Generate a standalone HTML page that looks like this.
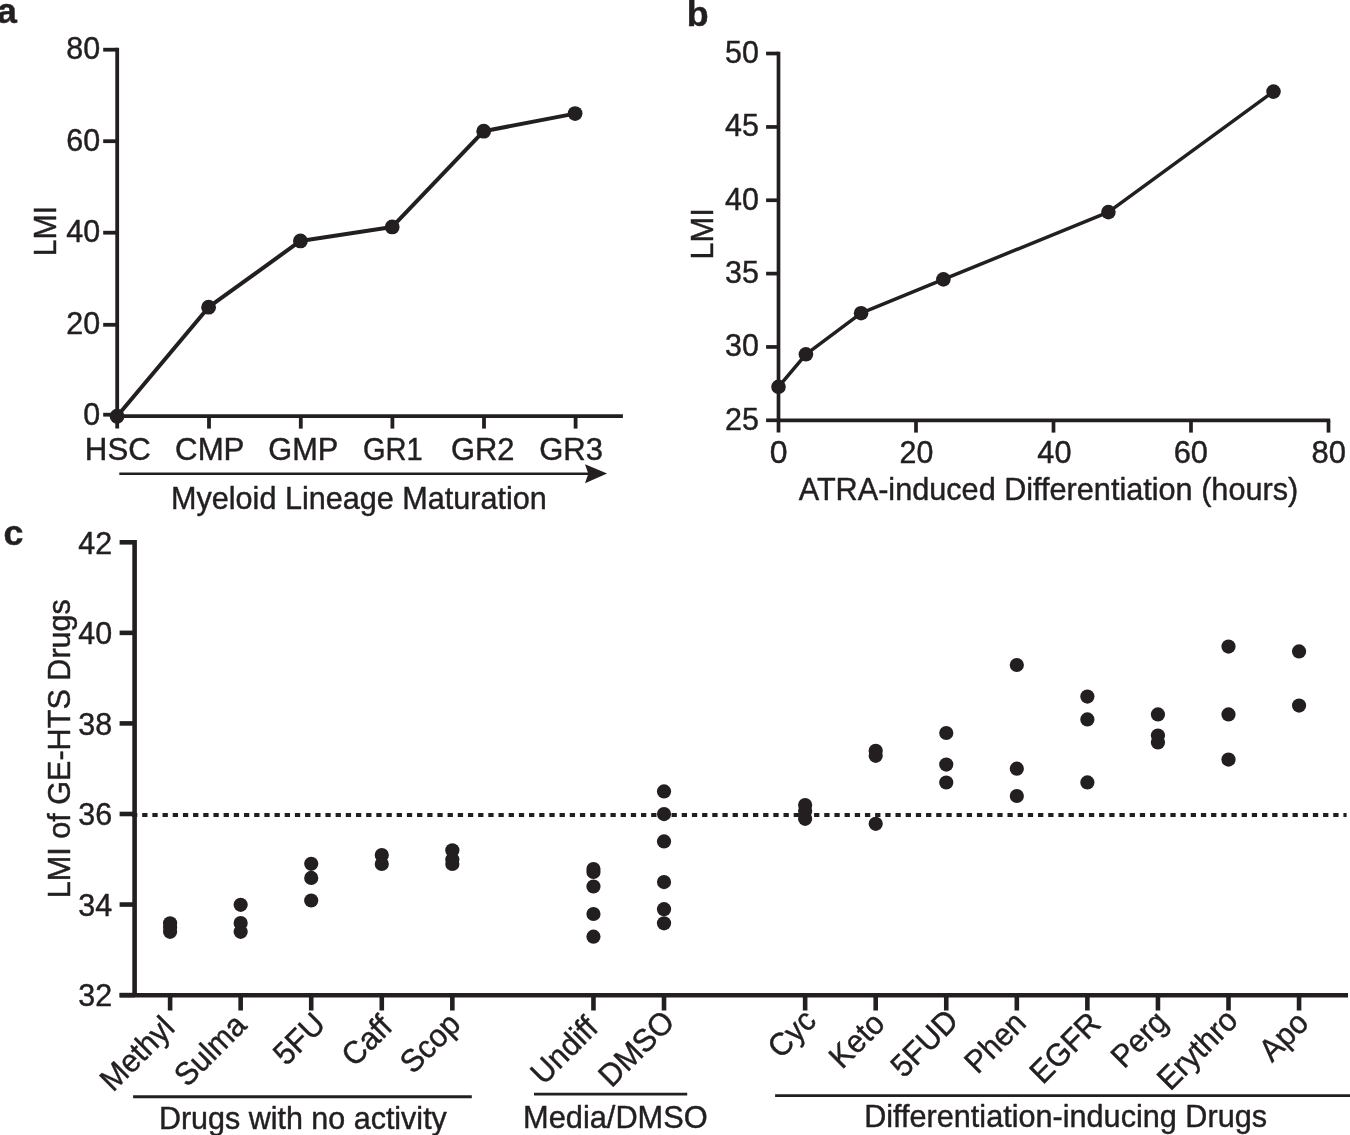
<!DOCTYPE html>
<html><head><meta charset="utf-8"><style>
html,body{margin:0;padding:0;background:#fff;}
svg{display:block;will-change:transform;}
text{font-family:"Liberation Sans",sans-serif;fill:#231f20;stroke:#231f20;stroke-width:0.45px;stroke-linejoin:round;}
</style></head><body>
<svg width="1350" height="1135" viewBox="0 0 1350 1135" fill="#231f20">
<text x="-3.00" y="22.80" font-size="35.8" text-anchor="start" textLength="19.91" lengthAdjust="spacingAndGlyphs" font-weight="bold">a</text>
<text x="686.70" y="25.50" font-size="35.8" text-anchor="start" textLength="21.87" lengthAdjust="spacingAndGlyphs" font-weight="bold">b</text>
<text x="3.40" y="544.90" font-size="35.8" text-anchor="start" textLength="19.91" lengthAdjust="spacingAndGlyphs" font-weight="bold">c</text>
<g stroke="#231f20" fill="none" stroke-linecap="butt">
<line x1="117.20" y1="47.80" x2="117.20" y2="428.60" stroke-width="3.8"/>
<line x1="103.20" y1="49.70" x2="117.20" y2="49.70" stroke-width="3.8"/>
<line x1="103.20" y1="141.20" x2="117.20" y2="141.20" stroke-width="3.8"/>
<line x1="103.20" y1="232.70" x2="117.20" y2="232.70" stroke-width="3.8"/>
<line x1="103.20" y1="324.80" x2="117.20" y2="324.80" stroke-width="3.8"/>
<line x1="103.20" y1="414.70" x2="117.20" y2="414.70" stroke-width="3.8"/>
<line x1="117.20" y1="416.20" x2="622.90" y2="416.20" stroke-width="3.8"/>
<line x1="209.00" y1="416.20" x2="209.00" y2="428.60" stroke-width="3.8"/>
<line x1="300.80" y1="416.20" x2="300.80" y2="428.60" stroke-width="3.8"/>
<line x1="392.40" y1="416.20" x2="392.40" y2="428.60" stroke-width="3.8"/>
<line x1="484.00" y1="416.20" x2="484.00" y2="428.60" stroke-width="3.8"/>
<line x1="575.60" y1="416.20" x2="575.60" y2="428.60" stroke-width="3.8"/>
<line x1="119.30" y1="473.70" x2="589.00" y2="473.70" stroke-width="2.5"/>
</g>
<path d="M585 464.2 L607.1 473.6 L585 483.2 L588.3 473.7 Z" fill="#231f20"/>
<polyline fill="none" stroke="#231f20" stroke-width="4.0" stroke-linejoin="round" points="117.1,416.2 208.6,307.2 300.4,240.9 392.2,226.9 483.7,131.2 575.1,113.6"/>
<circle cx="117.10" cy="416.20" r="7.4"/>
<circle cx="208.60" cy="307.20" r="7.4"/>
<circle cx="300.40" cy="240.90" r="7.4"/>
<circle cx="392.20" cy="226.90" r="7.4"/>
<circle cx="483.70" cy="131.20" r="7.4"/>
<circle cx="575.10" cy="113.60" r="7.4"/>
<text x="100.20" y="58.70" font-size="31.8" text-anchor="end" textLength="33.89" lengthAdjust="spacingAndGlyphs">80</text>
<text x="100.20" y="150.55" font-size="31.8" text-anchor="end" textLength="33.89" lengthAdjust="spacingAndGlyphs">60</text>
<text x="100.20" y="242.10" font-size="31.8" text-anchor="end" textLength="33.89" lengthAdjust="spacingAndGlyphs">40</text>
<text x="100.20" y="333.80" font-size="31.8" text-anchor="end" textLength="33.89" lengthAdjust="spacingAndGlyphs">20</text>
<text x="100.20" y="425.45" font-size="31.8" text-anchor="end" textLength="16.94" lengthAdjust="spacingAndGlyphs">0</text>
<text x="84.84" y="460.30" font-size="31.8" text-anchor="start" textLength="65.95" lengthAdjust="spacingAndGlyphs">HSC</text>
<text x="175.12" y="460.30" font-size="31.8" text-anchor="start" textLength="69.33" lengthAdjust="spacingAndGlyphs">CMP</text>
<text x="268.26" y="460.30" font-size="31.8" text-anchor="start" textLength="69.96" lengthAdjust="spacingAndGlyphs">GMP</text>
<text x="363.04" y="460.30" font-size="31.8" text-anchor="start" textLength="59.68" lengthAdjust="spacingAndGlyphs">GR1</text>
<text x="450.94" y="460.30" font-size="31.8" text-anchor="start" textLength="63.61" lengthAdjust="spacingAndGlyphs">GR2</text>
<text x="539.24" y="460.30" font-size="31.8" text-anchor="start" textLength="63.72" lengthAdjust="spacingAndGlyphs">GR3</text>
<text x="170.99" y="508.90" font-size="31.8" text-anchor="start" textLength="375.80" lengthAdjust="spacingAndGlyphs">Myeloid Lineage Maturation</text>
<g transform="translate(55.9 253.8) rotate(-90)">
<text x="-2.49" y="0.00" font-size="31.8" text-anchor="start" textLength="50.59" lengthAdjust="spacingAndGlyphs">LMI</text>
</g>
<g stroke="#231f20" fill="none">
<line x1="778.50" y1="51.65" x2="778.50" y2="432.60" stroke-width="3.7"/>
<line x1="766.10" y1="53.50" x2="778.50" y2="53.50" stroke-width="3.7"/>
<line x1="766.10" y1="126.95" x2="778.50" y2="126.95" stroke-width="3.7"/>
<line x1="766.10" y1="200.25" x2="778.50" y2="200.25" stroke-width="3.7"/>
<line x1="766.10" y1="273.60" x2="778.50" y2="273.60" stroke-width="3.7"/>
<line x1="766.10" y1="346.95" x2="778.50" y2="346.95" stroke-width="3.7"/>
<line x1="766.10" y1="420.30" x2="778.50" y2="420.30" stroke-width="3.7"/>
<line x1="778.50" y1="420.30" x2="1330.20" y2="420.30" stroke-width="3.7"/>
<line x1="916.00" y1="420.30" x2="916.00" y2="432.60" stroke-width="3.7"/>
<line x1="1053.50" y1="420.30" x2="1053.50" y2="432.60" stroke-width="3.7"/>
<line x1="1191.00" y1="420.30" x2="1191.00" y2="432.60" stroke-width="3.7"/>
<line x1="1328.50" y1="420.30" x2="1328.50" y2="432.60" stroke-width="3.7"/>
</g>
<polyline fill="none" stroke="#231f20" stroke-width="3.5" stroke-linejoin="round" points="778.5,386.8 805.9,354.3 861.1,313.2 943.4,279.4 1108.4,212.1 1273.5,91.6"/>
<circle cx="778.50" cy="386.80" r="7.3"/>
<circle cx="805.90" cy="354.30" r="7.3"/>
<circle cx="861.10" cy="313.20" r="7.3"/>
<circle cx="943.40" cy="279.40" r="7.3"/>
<circle cx="1108.40" cy="212.10" r="7.3"/>
<circle cx="1273.50" cy="91.60" r="7.3"/>
<text x="758.90" y="62.75" font-size="31.8" text-anchor="end" textLength="33.89" lengthAdjust="spacingAndGlyphs">50</text>
<text x="758.90" y="136.20" font-size="31.8" text-anchor="end" textLength="33.89" lengthAdjust="spacingAndGlyphs">45</text>
<text x="758.90" y="209.50" font-size="31.8" text-anchor="end" textLength="33.89" lengthAdjust="spacingAndGlyphs">40</text>
<text x="758.90" y="282.85" font-size="31.8" text-anchor="end" textLength="33.89" lengthAdjust="spacingAndGlyphs">35</text>
<text x="758.90" y="356.20" font-size="31.8" text-anchor="end" textLength="33.89" lengthAdjust="spacingAndGlyphs">30</text>
<text x="758.90" y="429.55" font-size="31.8" text-anchor="end" textLength="33.89" lengthAdjust="spacingAndGlyphs">25</text>
<text x="769.65" y="462.80" font-size="31.8" text-anchor="start" textLength="17.80" lengthAdjust="spacingAndGlyphs">0</text>
<text x="899.57" y="462.80" font-size="31.8" text-anchor="start" textLength="33.82" lengthAdjust="spacingAndGlyphs">20</text>
<text x="1037.29" y="462.80" font-size="31.8" text-anchor="start" textLength="34.21" lengthAdjust="spacingAndGlyphs">40</text>
<text x="1173.64" y="462.80" font-size="31.8" text-anchor="start" textLength="34.27" lengthAdjust="spacingAndGlyphs">60</text>
<text x="1311.55" y="462.80" font-size="31.8" text-anchor="start" textLength="34.46" lengthAdjust="spacingAndGlyphs">80</text>
<text x="798.74" y="500.20" font-size="31.8" text-anchor="start" textLength="499.45" lengthAdjust="spacingAndGlyphs">ATRA-induced Differentiation (hours)</text>
<g transform="translate(712.6 257.1) rotate(-90)">
<text x="-2.53" y="0.00" font-size="31.8" text-anchor="start" textLength="51.37" lengthAdjust="spacingAndGlyphs">LMI</text>
</g>
<g stroke="#231f20" fill="none">
<line x1="134.60" y1="540.00" x2="134.60" y2="995.30" stroke-width="4.6"/>
<line x1="119.60" y1="995.10" x2="134.60" y2="995.10" stroke-width="4.6"/>
<line x1="119.60" y1="904.54" x2="134.60" y2="904.54" stroke-width="4.6"/>
<line x1="119.60" y1="813.98" x2="134.60" y2="813.98" stroke-width="4.6"/>
<line x1="119.60" y1="723.42" x2="134.60" y2="723.42" stroke-width="4.6"/>
<line x1="119.60" y1="632.86" x2="134.60" y2="632.86" stroke-width="4.6"/>
<line x1="119.60" y1="542.30" x2="134.60" y2="542.30" stroke-width="4.6"/>
<line x1="119.60" y1="995.30" x2="1348.00" y2="995.30" stroke-width="4.6"/>
<line x1="170.10" y1="995.30" x2="170.10" y2="1010.50" stroke-width="4.6"/>
<line x1="240.66" y1="995.30" x2="240.66" y2="1010.50" stroke-width="4.6"/>
<line x1="311.22" y1="995.30" x2="311.22" y2="1010.50" stroke-width="4.6"/>
<line x1="381.78" y1="995.30" x2="381.78" y2="1010.50" stroke-width="4.6"/>
<line x1="452.34" y1="995.30" x2="452.34" y2="1010.50" stroke-width="4.6"/>
<line x1="593.46" y1="995.30" x2="593.46" y2="1010.50" stroke-width="4.6"/>
<line x1="664.02" y1="995.30" x2="664.02" y2="1010.50" stroke-width="4.6"/>
<line x1="805.14" y1="995.30" x2="805.14" y2="1010.50" stroke-width="4.6"/>
<line x1="875.70" y1="995.30" x2="875.70" y2="1010.50" stroke-width="4.6"/>
<line x1="946.26" y1="995.30" x2="946.26" y2="1010.50" stroke-width="4.6"/>
<line x1="1016.82" y1="995.30" x2="1016.82" y2="1010.50" stroke-width="4.6"/>
<line x1="1087.38" y1="995.30" x2="1087.38" y2="1010.50" stroke-width="4.6"/>
<line x1="1157.94" y1="995.30" x2="1157.94" y2="1010.50" stroke-width="4.6"/>
<line x1="1228.50" y1="995.30" x2="1228.50" y2="1010.50" stroke-width="4.6"/>
<line x1="1299.06" y1="995.30" x2="1299.06" y2="1010.50" stroke-width="4.6"/>
<line x1="132" y1="815.1" x2="1346.6" y2="815.1" stroke-width="4" stroke-dasharray="5.3 4.88"/>
<line x1="133.10" y1="1096.70" x2="471.80" y2="1096.70" stroke-width="2.9"/>
<line x1="534.00" y1="1094.10" x2="687.20" y2="1094.10" stroke-width="2.9"/>
<line x1="775.10" y1="1095.60" x2="1350.00" y2="1095.60" stroke-width="2.9"/>
</g>
<circle cx="170.10" cy="923.30" r="7.1"/>
<circle cx="170.10" cy="927.50" r="7.1"/>
<circle cx="170.10" cy="931.80" r="7.1"/>
<circle cx="240.66" cy="904.80" r="7.1"/>
<circle cx="240.66" cy="923.10" r="7.1"/>
<circle cx="240.66" cy="931.80" r="7.1"/>
<circle cx="311.22" cy="863.80" r="7.1"/>
<circle cx="311.22" cy="877.90" r="7.1"/>
<circle cx="311.22" cy="900.50" r="7.1"/>
<circle cx="381.78" cy="855.10" r="7.1"/>
<circle cx="381.78" cy="864.00" r="7.1"/>
<circle cx="452.34" cy="850.30" r="7.1"/>
<circle cx="452.34" cy="859.50" r="7.1"/>
<circle cx="452.34" cy="864.00" r="7.1"/>
<circle cx="593.46" cy="869.00" r="7.1"/>
<circle cx="593.46" cy="872.00" r="7.1"/>
<circle cx="593.46" cy="886.50" r="7.1"/>
<circle cx="593.46" cy="914.00" r="7.1"/>
<circle cx="593.46" cy="936.70" r="7.1"/>
<circle cx="664.02" cy="791.40" r="7.1"/>
<circle cx="664.02" cy="814.10" r="7.1"/>
<circle cx="664.02" cy="841.40" r="7.1"/>
<circle cx="664.02" cy="882.10" r="7.1"/>
<circle cx="664.02" cy="909.20" r="7.1"/>
<circle cx="664.02" cy="923.30" r="7.1"/>
<circle cx="805.14" cy="805.00" r="7.1"/>
<circle cx="805.14" cy="811.00" r="7.1"/>
<circle cx="805.14" cy="818.80" r="7.1"/>
<circle cx="875.70" cy="750.80" r="7.1"/>
<circle cx="875.70" cy="755.80" r="7.1"/>
<circle cx="875.70" cy="823.80" r="7.1"/>
<circle cx="946.26" cy="733.00" r="7.1"/>
<circle cx="946.26" cy="764.60" r="7.1"/>
<circle cx="946.26" cy="782.50" r="7.1"/>
<circle cx="1016.82" cy="665.00" r="7.1"/>
<circle cx="1016.82" cy="768.70" r="7.1"/>
<circle cx="1016.82" cy="796.00" r="7.1"/>
<circle cx="1087.38" cy="696.60" r="7.1"/>
<circle cx="1087.38" cy="719.40" r="7.1"/>
<circle cx="1087.38" cy="782.40" r="7.1"/>
<circle cx="1157.94" cy="714.40" r="7.1"/>
<circle cx="1157.94" cy="735.60" r="7.1"/>
<circle cx="1157.94" cy="742.40" r="7.1"/>
<circle cx="1228.50" cy="646.60" r="7.1"/>
<circle cx="1228.50" cy="714.40" r="7.1"/>
<circle cx="1228.50" cy="759.60" r="7.1"/>
<circle cx="1299.06" cy="651.40" r="7.1"/>
<circle cx="1299.06" cy="705.60" r="7.1"/>
<text x="112.10" y="1006.40" font-size="31.8" text-anchor="end" textLength="33.89" lengthAdjust="spacingAndGlyphs">32</text>
<text x="112.10" y="915.84" font-size="31.8" text-anchor="end" textLength="33.89" lengthAdjust="spacingAndGlyphs">34</text>
<text x="112.10" y="825.28" font-size="31.8" text-anchor="end" textLength="33.89" lengthAdjust="spacingAndGlyphs">36</text>
<text x="112.10" y="734.72" font-size="31.8" text-anchor="end" textLength="33.89" lengthAdjust="spacingAndGlyphs">38</text>
<text x="112.10" y="644.16" font-size="31.8" text-anchor="end" textLength="33.89" lengthAdjust="spacingAndGlyphs">40</text>
<text x="112.10" y="553.60" font-size="31.8" text-anchor="end" textLength="33.89" lengthAdjust="spacingAndGlyphs">42</text>
<g transform="translate(70 895.8) rotate(-90)">
<text x="-2.51" y="0.00" font-size="31.8" text-anchor="start" textLength="299.22" lengthAdjust="spacingAndGlyphs">LMI of GE-HTS Drugs</text>
</g>
<text x="176.40" y="1029.39" font-size="31.8" text-anchor="end" textLength="89.73" lengthAdjust="spacingAndGlyphs" transform="rotate(-45 176.4 1029.39)">Methyl</text>
<text x="248.24" y="1027.06" font-size="31.8" text-anchor="end" textLength="86.35" lengthAdjust="spacingAndGlyphs" transform="rotate(-45 248.24 1027.06)">Sulma</text>
<text x="326.95" y="1026.02" font-size="31.8" text-anchor="end" textLength="57.55" lengthAdjust="spacingAndGlyphs" transform="rotate(-45 326.95 1026.02)">5FU</text>
<text x="393.95" y="1028.49" font-size="31.8" text-anchor="end" textLength="55.87" lengthAdjust="spacingAndGlyphs" transform="rotate(-45 393.95 1028.49)">Caff</text>
<text x="462.17" y="1026.01" font-size="31.8" text-anchor="end" textLength="69.44" lengthAdjust="spacingAndGlyphs" transform="rotate(-45 462.17 1026.01)">Scop</text>
<text x="599.68" y="1029.66" font-size="31.8" text-anchor="end" textLength="79.58" lengthAdjust="spacingAndGlyphs" transform="rotate(-45 599.68 1029.66)">Undiff</text>
<text x="676.23" y="1023.79" font-size="31.8" text-anchor="end" textLength="91.39" lengthAdjust="spacingAndGlyphs" transform="rotate(-45 676.23 1023.79)">DMSO</text>
<text x="817.88" y="1022.56" font-size="31.8" text-anchor="end" textLength="52.46" lengthAdjust="spacingAndGlyphs" transform="rotate(-45 817.88 1022.56)">Cyc</text>
<text x="886.41" y="1025.57" font-size="31.8" text-anchor="end" textLength="62.67" lengthAdjust="spacingAndGlyphs" transform="rotate(-45 886.41 1025.57)">Keto</text>
<text x="960.03" y="1022.75" font-size="31.8" text-anchor="end" textLength="79.55" lengthAdjust="spacingAndGlyphs" transform="rotate(-45 960.03 1022.75)">5FUD</text>
<text x="1027.86" y="1024.71" font-size="31.8" text-anchor="end" textLength="71.15" lengthAdjust="spacingAndGlyphs" transform="rotate(-45 1027.86 1024.71)">Phen</text>
<text x="1102.67" y="1025.40" font-size="31.8" text-anchor="end" textLength="84.62" lengthAdjust="spacingAndGlyphs" transform="rotate(-45 1102.67 1025.4)">EGFR</text>
<text x="1169.42" y="1023.93" font-size="31.8" text-anchor="end" textLength="64.35" lengthAdjust="spacingAndGlyphs" transform="rotate(-45 1169.42 1023.93)">Perg</text>
<text x="1239.57" y="1022.36" font-size="31.8" text-anchor="end" textLength="98.19" lengthAdjust="spacingAndGlyphs" transform="rotate(-45 1239.57 1022.36)">Erythro</text>
<text x="1310.26" y="1024.80" font-size="31.8" text-anchor="end" textLength="54.21" lengthAdjust="spacingAndGlyphs" transform="rotate(-45 1310.26 1024.8)">Apo</text>
<text x="158.90" y="1128.50" font-size="31.8" text-anchor="start" textLength="287.96" lengthAdjust="spacingAndGlyphs">Drugs with no activity</text>
<text x="523.08" y="1127.80" font-size="31.8" text-anchor="start" textLength="184.59" lengthAdjust="spacingAndGlyphs">Media/DMSO</text>
<text x="864.19" y="1127.40" font-size="31.8" text-anchor="start" textLength="402.81" lengthAdjust="spacingAndGlyphs">Differentiation-inducing Drugs</text>
</svg>
</body></html>
